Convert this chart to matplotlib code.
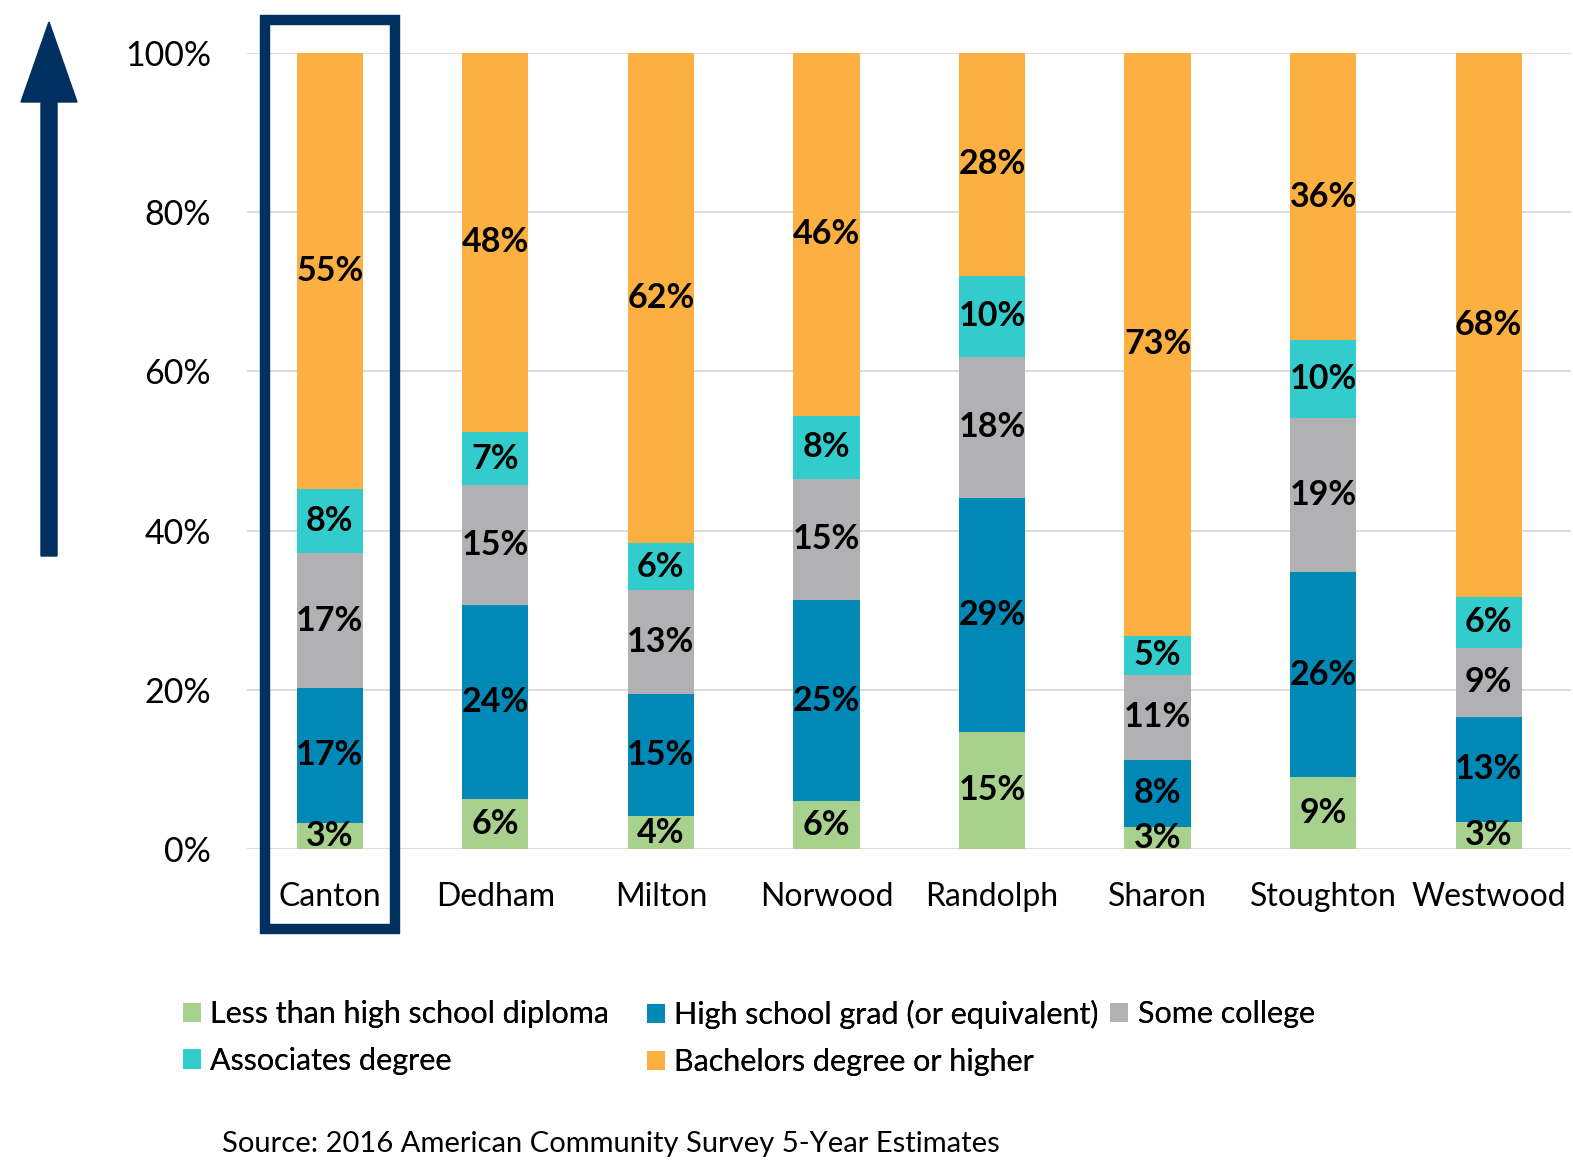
import numpy as np
import matplotlib
matplotlib.use("Agg")
from matplotlib import pyplot as plt
from matplotlib.patches import Rectangle, FancyArrow

towns = ["Canton", "Dedham", "Milton", "Norwood", "Randolph", "Sharon", "Stoughton", "Westwood"]
less_than_hs = [3.3, 6.3, 4.1, 6.0, 14.7, 2.8, 9.0, 3.4]
hs_grad = [16.9, 24.4, 15.4, 25.3, 29.4, 8.4, 25.8, 13.2]
some_college = [17.0, 15.0, 13.0, 15.2, 17.7, 10.7, 19.3, 8.7]
associates = [8.0, 6.7, 5.9, 7.9, 10.2, 4.9, 9.8, 6.4]
bachelors = [54.8, 47.6, 61.6, 45.6, 28.0, 73.2, 36.1, 68.3]

series = [
    ("Less than high school diploma", less_than_hs, "#a9d18e"),
    ("High school grad (or equivalent)", hs_grad, "#0088b7"),
    ("Some college", some_college, "#b1b1b3"),
    ("Associates degree", associates, "#33cccc"),
    ("Bachelors degree or higher", bachelors, "#fbb041"),
]
navy = "#00305f"

plt.rcParams["font.family"] = ["Lato", "DejaVu Sans"]

fig = plt.figure(figsize=(15.73, 11.7), dpi=100)
ax = fig.add_axes([0.157, 0.2744, 0.842, 0.6803])

x = np.arange(len(towns))
width = 0.4
bottom = np.zeros(len(towns))
handles = {}
for name, vals, color in series:
    vals = np.array(vals)
    bars = ax.bar(x, vals, width, bottom=bottom, color=color, linewidth=0, label=name, zorder=2)
    handles[name] = bars
    for xi, b, v in zip(x, bottom, vals):
        ax.text(xi, b + v / 2, "{:.0f}%".format(v), ha="center", va="center",
                fontsize=24.5, fontweight="bold", color="black", zorder=3)
    bottom += vals

ax.set_xlim(-0.5, 7.5)
ax.set_ylim(0, 100)
ax.set_yticks(np.arange(0, 101, 20))
ax.set_yticklabels(["{}%".format(v) for v in range(0, 101, 20)], fontsize=24.5)
ax.set_xticks(x)
ax.set_xticklabels(towns, fontsize=23)
ax.tick_params(axis="both", length=0)
ax.tick_params(axis="y", pad=26)
ax.tick_params(axis="x", pad=24)
ax.grid(axis="y", color="#d9d9d9", linewidth=1.3, zorder=0)
ax.set_axisbelow(True)
for s in ax.spines.values():
    s.set_visible(False)

# highlight box round Canton
ax.add_patch(Rectangle((-0.39, -10.0), 0.785, 114.1, fill=False, edgecolor=navy,
                       linewidth=7.5, clip_on=False, zorder=4))

# big arrow on the left
fig.patches.append(FancyArrow(49 / 1573, 1 - 556 / 1170, 0, (556 - 22) / 1170, width=16 / 1573,
                              head_width=56 / 1573, head_length=80 / 1170, length_includes_head=True,
                              color=navy, transform=fig.transFigure, figure=fig))

# legend: three columns placed like the original (uneven column gaps)
columns = [
    (183, ["Less than high school diploma", "Associates degree"]),
    (647, ["High school grad (or equivalent)", "Bachelors degree or higher"]),
    (1110, ["Some college"]),
]
for left, names in columns:
    leg = fig.legend([handles[k] for k in names], names, loc="upper left",
                     bbox_to_anchor=(left / 1573, 1 - 1000 / 1170), ncol=1, frameon=False,
                     fontsize=22, handlelength=0.6, handleheight=0.6, handletextpad=0.3,
                     labelspacing=0.62, borderaxespad=0, borderpad=0)
    fig.add_artist(leg)

fig.text(222 / 1573, 1 - 1144 / 1170, "Source: 2016 American Community Survey 5-Year Estimates",
         fontsize=21, ha="left", va="center")

fig.savefig("out.png", dpi=100)
